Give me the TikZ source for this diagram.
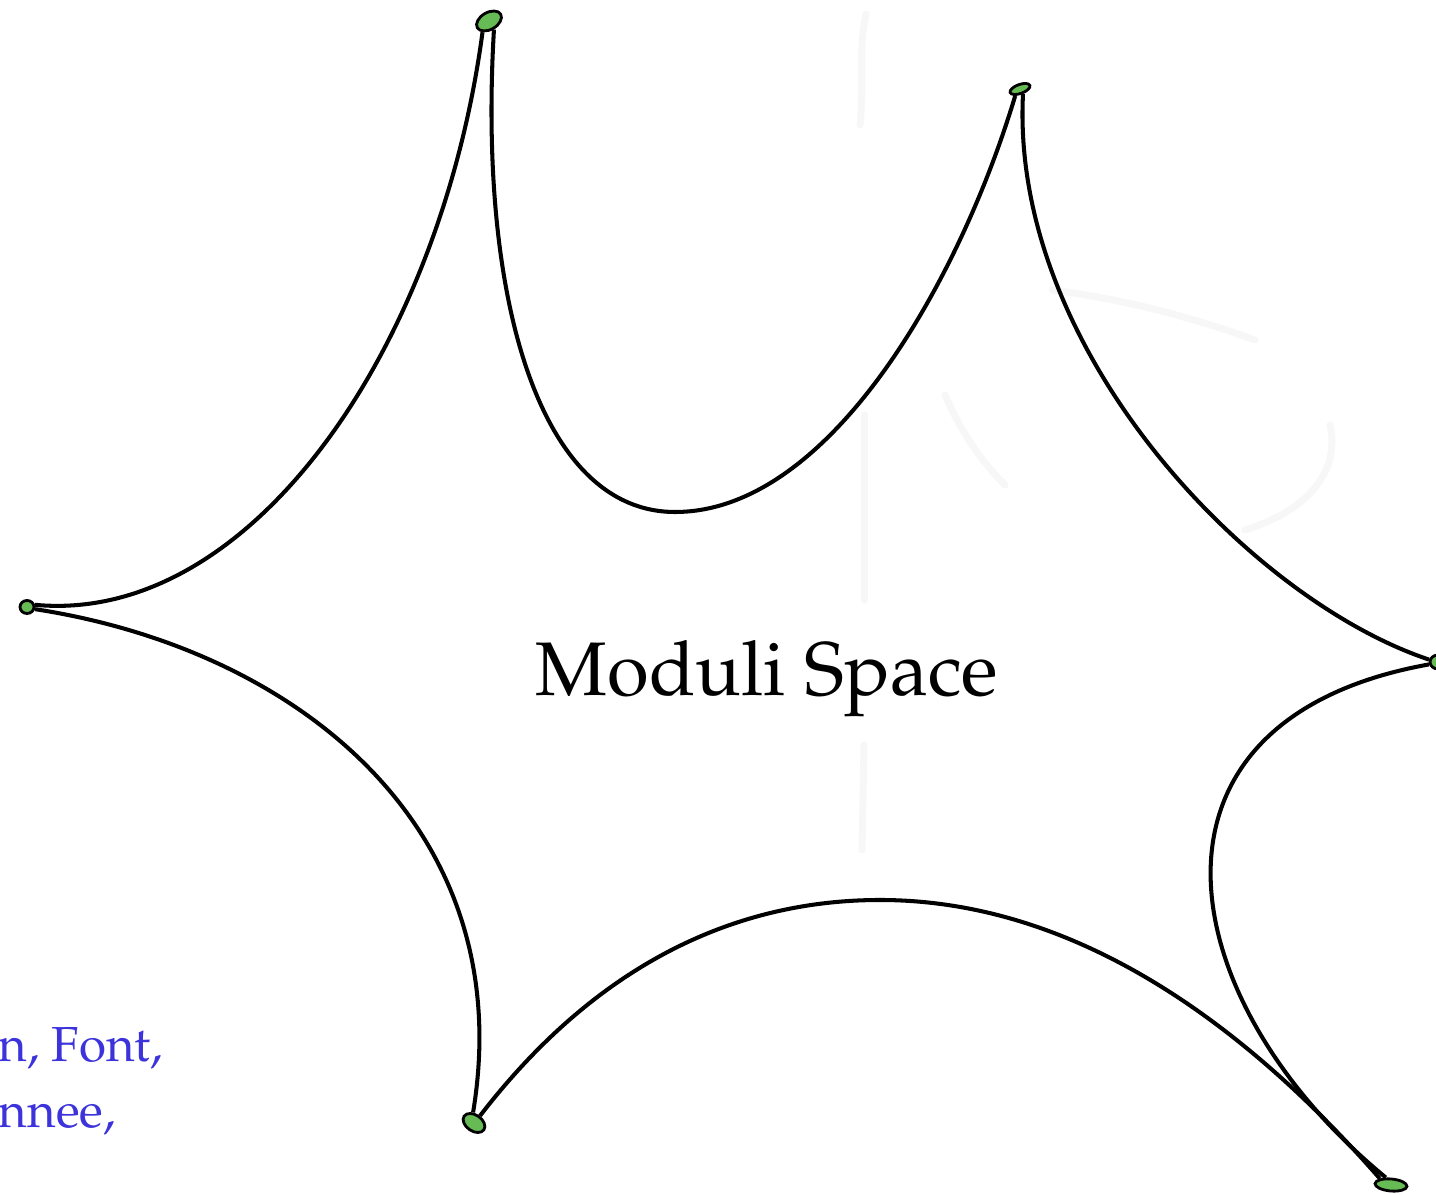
\documentclass[tikz,border=0pt]{standalone}
\usepackage[T1]{fontenc}
\usepackage{mathpazo}
\usetikzlibrary{shapes.geometric}
\definecolor{cuspfill}{HTML}{66BB55}
\definecolor{notecolor}{HTML}{3C33DA}
\definecolor{ghost}{HTML}{F7F7F7}

\tikzset{
  cusp/.style={ellipse,draw=black,fill=cuspfill,line width=0.8pt,inner sep=0pt},
  strand/.style={draw=black,line width=1.15pt},
  ghostline/.style={draw=ghost,line width=0.07cm,line cap=round}
}

\begin{document}
\begin{tikzpicture}[x=0.01cm,y=-0.01cm]
\useasboundingbox (0,0) rectangle (1436,1195);

% faint sketch underneath
\draw[ghostline] (866,14) .. controls (858,50) and (864,90) .. (860,125);
\draw[ghostline] (864,415) -- (864,600);
\draw[ghostline] (864,745) -- (862,850);
\draw[ghostline] (1052,290) .. controls (1130,300) and (1200,320) .. (1255,340);
\draw[ghostline] (945,395) .. controls (960,430) and (980,460) .. (1005,485);
\draw[ghostline] (1330,425) .. controls (1340,470) and (1310,510) .. (1245,530);

% cusps
\node[cusp,minimum width=0.27cm,minimum height=0.17cm,rotate=30] (cA) at (489,21) {};
\node[cusp,minimum width=0.21cm,minimum height=0.09cm,rotate=20] (cB) at (1020,89) {};
\node[cusp,minimum width=0.16cm,minimum height=0.14cm] (cC) at (1438,662) {};
\node[cusp,minimum width=0.32cm,minimum height=0.12cm,rotate=-5] (cD) at (1391,1185) {};
\node[cusp,minimum width=0.24cm,minimum height=0.16cm,rotate=-35] (cE) at (474,1123) {};
\node[cusp,minimum width=0.14cm,minimum height=0.13cm] (cF) at (27,607) {};

\coordinate (valley) at (675,512);
\coordinate (crest) at (880,900);

% boundary of the moduli space
\draw[strand] (cF.15) .. controls (250,625) and (440,350) .. (cA.210);
\draw[strand] (cA.270) .. controls (478,300) and (540,512) .. (valley)
  .. controls (830,512) and (960,280) .. (cB.215);
\draw[strand] (cB.280) .. controls (1010,350) and (1250,600) .. (cC.165);
\draw[strand] (cC.195) .. controls (1120,720) and (1170,1000) .. (cD.130);
\draw[strand] (cE.85) .. controls (600,960) and (740,900) .. (crest)
  .. controls (1080,900) and (1250,1030) .. (cD.155);
\draw[strand] (cF.-15) .. controls (300,650) and (520,830) .. (cE.130);

\node[font=\fontsize{21.6}{26}\selectfont] (title) at (767,679) {Moduli Space};

\node[anchor=base west,inner sep=0pt,text=notecolor,font=\fontsize{14}{17}\selectfont] (noteA) at (-2,1062) {n, Font,};
\node[anchor=base west,inner sep=0pt,text=notecolor,font=\fontsize{14}{17}\selectfont] (noteB) at (-2,1128) {nnee,};
\end{tikzpicture}
\end{document}
